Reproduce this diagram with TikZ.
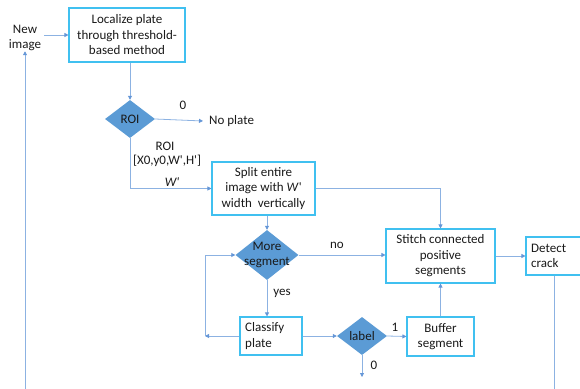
\documentclass[tikz,border=0pt]{standalone}
\usepackage{fontspec}
\setmainfont{Carlito}
\usetikzlibrary{shapes.geometric,arrows.meta}
\definecolor{boxc}{RGB}{64,192,240}
\definecolor{linec}{RGB}{140,178,226}
\definecolor{tipc}{RGB}{100,150,215}
\definecolor{dfill}{RGB}{91,155,213}
\definecolor{txt}{RGB}{25,25,25}
\tikzset{
  box/.style={draw=boxc,line width=1.1pt,rectangle,inner sep=0pt,align=center,text=txt,font=\fontsize{13}{15.5}\selectfont},
  dia/.style={diamond,fill=dfill,draw=none,inner sep=0pt},
  lbl/.style={text=txt,font=\fontsize{13}{15.5}\selectfont,inner sep=0pt,align=center},
  conn/.style={draw=linec,line width=0.8pt},
  arr/.style={conn,-{Triangle[length=4pt,width=4pt,color=tipc]}},
}
\begin{document}
\begin{tikzpicture}[x=1pt,y=-1pt]
\useasboundingbox (0,0) rectangle (580,388);
\clip (0,0) rectangle (580,388);
% nodes
\node[lbl] (newimg) at (25,38) {New\\image};
\node[box,minimum width=116,minimum height=54] (loc) at (127,35) {Localize plate\\through threshold-\\based method};
\node[dia,minimum width=50,minimum height=38] (roi) at (130,119) {};
\node[lbl] (roit) at (roi) {ROI};
\node[lbl,anchor=west] (noplate) at (209,121) {No plate};
\node[lbl] (zero1) at (183,105) {0};
\node[lbl] (roil) at (165,146) {ROI};
\node[lbl] (roic) at (167,161) {[X0,y0,W\textquotesingle,H\textquotesingle]};
\node[lbl] (wl) at (172,182) {\itshape W\textquotesingle};
\node[box,minimum width=103,minimum height=53] (split) at (263.5,188.5) {Split entire\\image with \textit{W}\textquotesingle\\width\ \ vertically};
\node[dia,minimum width=63,minimum height=50] (more) at (267,255) {};
\node[lbl] (moret) at (267,255) {More\\segment};
\node[lbl] (no) at (337,245) {no};
\node[lbl] (yes) at (282,293) {yes};
\node[box,minimum width=109,minimum height=54] (stitch) at (440.5,256) {Stitch connected\\positive\\segments};
\node[box,minimum width=62,minimum height=38] (classify) at (271,336) {};
\node[lbl,align=left,anchor=west] (classt) at (245,336) {Classify\\plate};
\node[dia,minimum width=50,minimum height=38] (label) at (362,336) {};
\node[lbl] (labelt) at (label) {label};
\node[lbl] (one) at (395,327) {1};
\node[lbl] (zero2) at (374,365) {0};
\coordinate (lend) at (362,377);
\node[box,minimum width=67,minimum height=39] (buffer) at (440.5,336.5) {Buffer\\segment};
\node[box,minimum width=56,minimum height=38] (detect) at (554,256) {};
\node[lbl,align=left,anchor=west] (detectt) at (531,256) {Detect\\crack};
\coordinate (dbot) at (554,390);
\coordinate (lbot) at (25,390);
\coordinate (loopc) at (205,336);
% connectors
\draw[arr] (newimg.east |- loc.west) ++(3,0) -- (loc.west);
\draw[arr] (roi.north |- loc.south) -- (roi.north);
\draw[arr] (roi.east) -- (noplate.west -| 203,0) coordinate (np);
\draw[arr] (roi.south) |- (split.west);
\draw[arr] (split.east) -| (stitch.north);
\draw[arr] (more.north |- split.south) -- (more.north);
\draw[arr] (more.east) -- (more.east -| stitch.west);
\draw[arr] (more.south) -- (more.south |- classify.north);
\draw[arr] (classify.west) -- (loopc);
\draw[arr] (loopc) |- (more.west);
\draw[arr] (classify.east) -- (label.west);
\draw[arr] (label.east) -- (buffer.west);
\draw[arr] (label.south) -- (lend);
\draw[arr] (buffer.north) -- (stitch.south);
\draw[arr] (stitch.east) -- (detect.west);
\draw[conn] (detect.south) -- (dbot);
\draw[arr] (lbot) -- (newimg.south);
\end{tikzpicture}
\end{document}
